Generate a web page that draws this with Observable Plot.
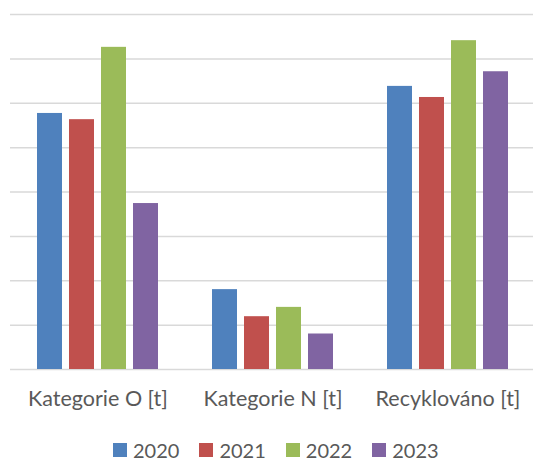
<!DOCTYPE html>
<html>
<head>
<meta charset="utf-8">
<script src="https://cdn.jsdelivr.net/npm/d3@7"></script>
<script src="https://cdn.jsdelivr.net/npm/@observablehq/plot@0.6"></script>
<style>
  html, body { margin: 0; padding: 0; background: #fff; font-family: Lato, sans-serif; overflow: hidden; }
  #chart svg { display: block; }
  #legend { display: flex; align-items: center; padding-left: 113px; margin-top: 20px; height: 24px; color: #595959; font-size: 20px; line-height: 24px; }
  #legend .item { display: flex; align-items: center; margin-right: 20px; white-space: nowrap; }
  #legend .sw { flex: none; width: 14px; height: 14px; margin-right: 6px; }
</style>
</head>
<body>
<div id="chart"></div>
<script>
const categories = ["Kategorie O [t]", "Kategorie N [t]", "Recyklováno [t]"];
const years = ["2020", "2021", "2022", "2023"];
const values2020 = [5.77, 1.80, 6.38];
const values2021 = [5.63, 1.19, 6.13];
const values2022 = [7.26, 1.40, 7.41];
const values2023 = [3.74, 0.80, 6.71];
const gridTicks = [0, 1, 2, 3, 4, 5, 6, 7, 8];
const colors = ["#4F81BD", "#C0504D", "#9BBB59", "#8064A2"];

const series = [values2020, values2021, values2022, values2023];
const data = [];
categories.forEach((c, i) => {
  years.forEach((y, j) => data.push({category: c, year: y, value: series[j][i]}));
});

const plot = Plot.plot({
  width: 533,
  height: 418,
  marginLeft: 10,
  marginRight: -2,
  marginTop: 14,
  marginBottom: 49,
  style: {fontFamily: "Lato, sans-serif", fontSize: "21.5px", color: "#595959", background: "#fff"},
  fx: {domain: categories, padding: 0, axis: "bottom", tickSize: 0, tickPadding: 21, label: null},
  x: {domain: years, axis: null, paddingInner: 7/32, paddingOuter: 0.84375},
  y: {domain: [0, 8], axis: null},
  color: {domain: years, range: colors},
  marks: [
    Plot.ruleY(gridTicks, {stroke: "#d9d9d9", strokeWidth: 1.5}),
    Plot.barY(data, {fx: "category", x: "year", y: "value", fill: "year"})
  ]
});
document.getElementById("chart").appendChild(plot);

const legend = d3.select("body").append("div").attr("id", "legend");
const items = legend.selectAll(".item").data(years).join("div").attr("class", "item");
items.append("div").attr("class", "sw").style("background", (d, i) => colors[i]);
items.append("span").text(d => d);
</script>
</body>
</html>
